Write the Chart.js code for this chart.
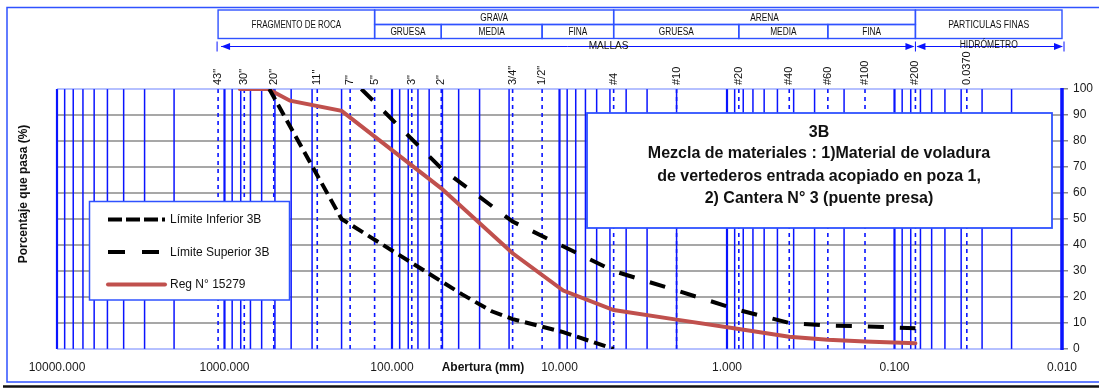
<!DOCTYPE html>
<html>
<head>
<meta charset="utf-8">
<script src="https://cdn.jsdelivr.net/npm/chart.js@4.4.1/dist/chart.umd.min.js"></script>
<style>
  html, body { margin: 0; padding: 0; background: #ffffff; }
  #wrap { width: 1099px; height: 388px; position: relative; }
</style>
</head>
<body>
<div id="wrap"><canvas id="curve"></canvas></div>
<script>
const FONT = '"Liberation Sans", Arial, Helvetica, sans-serif';

// Sieve openings (mm) marked along the top of the plot
const sieveLabels = ['43"', '30"', '20"', '11"', '7"', '5"', '3"', '2"', '3/4"', '1/2"', '#4', '#10', '#20', '#40', '#60', '#100', '#200', '0.0370'];
const sieveSizes  = [1092.2, 762, 508, 279.4, 177.8, 127, 76.2, 50.8, 19.05, 12.7, 4.75, 2.0, 0.85, 0.425, 0.25, 0.15, 0.075, 0.037];

// Axis ticks
const sizeTicks    = [10000, 1000, 100, 10, 1, 0.1, 0.01];
const percentTicks = [0, 10, 20, 30, 40, 50, 60, 70, 80, 90, 100];

// Gradation band 3B and the tested sample (size in mm, % passing)
const lowerSize  = [540, 200, 38.1, 25.4, 19.05, 9.5, 4.75];
const lowerPass  = [100, 50, 21, 14.5, 11.5, 6.5, 0];
const upperSize  = [152.4, 50.8, 19.05, 4.75, 2.0, 0.85, 0.425, 0.25, 0.15, 0.075];
const upperPass  = [100, 69.5, 49, 30, 22.5, 15, 10, 9, 8.7, 8];
const sampleSize = [810, 550, 406.4, 200, 50.8, 19.05, 9.5, 4.75, 2.0, 0.85, 0.425, 0.25, 0.15, 0.075];
const samplePass = [100, 100, 95.5, 91.6, 61.8, 36.8, 22.5, 15, 11.3, 7.7, 4.7, 3.6, 2.9, 2.2];

const seriesNames = ['Límite Inferior 3B', 'Límite Superior 3B', 'Reg N° 15279'];

// Soil classification header (limits in mm)
const fragLimits  = [1092.2, 127];
const gravaLimits = [127, 50.8, 12.7, 4.75];
const arenaLimits = [4.75, 0.85, 0.25, 0.075];
const finosLimits = [0.075, 0.01];
const subNames    = ['GRUESA', 'MEDIA', 'FINA'];

const infoLines = [
  '3B',
  'Mezcla de materiales : 1)Material de voladura',
  'de vertederos entrada acopiado en poza 1,',
  '2) Cantera N° 3 (puente presa)'
];

const BLUE = '#0a14ff';
const FRAME_BLUE = '#2f52ff';
const GRID_GRAY = '#8a8a8a';
const RED = '#c0504d';
const DASH_LOWER = [12, 6];
const DASH_UPPER = [16, 16];

function pts(xs, ys) { return xs.map((v, i) => ({ x: v, y: ys[i] })); }

function seg(ctx, x1, y1, x2, y2) {
  ctx.beginPath(); ctx.moveTo(x1, y1); ctx.lineTo(x2, y2); ctx.stroke();
}

function narrowText(ctx, s, x, y, sx) {
  ctx.save(); ctx.translate(x, y); ctx.scale(sx, 1); ctx.fillText(s, 0, 0); ctx.restore();
}

function arrowHead(ctx, tipX, y, dir) {
  // dir = -1 points left, +1 points right
  ctx.beginPath();
  ctx.moveTo(tipX, y);
  ctx.lineTo(tipX - dir * 9, y - 3.5);
  ctx.lineTo(tipX - dir * 9, y + 3.5);
  ctx.closePath();
  ctx.fill();
}

// Grid: gray percent lines, blue log lines, dashed sieve lines, right axis
const gridPlugin = {
  id: 'gradGrid',
  beforeDatasetsDraw(chart) {
    const { ctx, chartArea: a, scales: { x, y } } = chart;
    ctx.save();
    ctx.lineCap = 'butt';
    ctx.strokeStyle = GRID_GRAY;
    ctx.lineWidth = 1.5;
    percentTicks.forEach(p => {
      if (p === 0 || p === 100) return;
      const py = y.getPixelForValue(p);
      seg(ctx, a.left, py, a.right, py);
    });

    ctx.strokeStyle = BLUE;
    for (let e = -2; e <= 4; e++) {
      for (let m = 1; m <= 9; m++) {
        const v = m * Math.pow(10, e);
        if (v < 0.01 - 1e-12 || v > 10000 + 1e-9) continue;
        const px = x.getPixelForValue(v);
        ctx.lineWidth = m === 1 ? 2.2 : 1.5;
        seg(ctx, px, a.top, px, a.bottom);
      }
    }

    ctx.setLineDash([4, 4]);
    ctx.lineWidth = 1.6;
    sieveSizes.forEach(s => {
      const px = x.getPixelForValue(s);
      seg(ctx, px, a.top, px, a.bottom);
    });
    ctx.setLineDash([]);

    ctx.strokeStyle = 'rgba(60,90,255,0.75)';
    ctx.lineWidth = 1.2;
    seg(ctx, a.left, a.top, a.right, a.top);
    seg(ctx, a.left, a.bottom, a.right, a.bottom);

    ctx.strokeStyle = BLUE;
    ctx.lineWidth = 3.5;
    seg(ctx, a.right, a.top - 1, a.right, a.bottom + 1);
    ctx.restore();
  }
};

// Frame, classification header, sieve names, titles, legend and note box
const overlayPlugin = {
  id: 'gradOverlay',
  afterDraw(chart) {
    const { ctx, chartArea: a, scales: { x, y }, data } = chart;
    const X = v => x.getPixelForValue(v);
    ctx.save();

    // outer frame
    ctx.strokeStyle = FRAME_BLUE;
    ctx.lineWidth = 1.5;
    ctx.strokeRect(7, 7.5, 1100, 374.5);
    ctx.strokeStyle = '#111';
    ctx.lineWidth = 2.5;
    seg(ctx, 3, 386.5, 1099, 386.5);

    // classification table
    const r0 = 10, r1 = 24.5, r2 = 38.5;
    ctx.strokeStyle = FRAME_BLUE;
    ctx.lineWidth = 1.4;
    const box = (v1, v2, t, b) => ctx.strokeRect(X(v1), t, X(v2) - X(v1), b - t);
    box(fragLimits[0], fragLimits[1], r0, r2);
    box(gravaLimits[0], gravaLimits[3], r0, r1);
    box(arenaLimits[0], arenaLimits[3], r0, r1);
    box(finosLimits[0], finosLimits[1], r0, r2);
    for (let i = 0; i < 3; i++) {
      box(gravaLimits[i], gravaLimits[i + 1], r1, r2);
      box(arenaLimits[i], arenaLimits[i + 1], r1, r2);
    }
    ctx.fillStyle = '#111';
    ctx.textAlign = 'center';
    ctx.textBaseline = 'middle';
    ctx.font = '10px ' + FONT;
    const mid = (v1, v2) => (X(v1) + X(v2)) / 2;
    narrowText(ctx, 'FRAGMENTO DE ROCA', mid(fragLimits[0], fragLimits[1]), (r0 + r2) / 2 + 0.5, 0.8);
    narrowText(ctx, 'GRAVA', mid(gravaLimits[0], gravaLimits[3]), (r0 + r1) / 2 + 0.5, 0.83);
    narrowText(ctx, 'ARENA', mid(arenaLimits[0], arenaLimits[3]), (r0 + r1) / 2 + 0.5, 0.83);
    narrowText(ctx, 'PARTICULAS FINAS', mid(finosLimits[0], finosLimits[1]), (r0 + r2) / 2 + 0.5, 0.86);
    for (let i = 0; i < 3; i++) {
      narrowText(ctx, subNames[i], mid(gravaLimits[i], gravaLimits[i + 1]), (r1 + r2) / 2 + 0.5, 0.83);
      narrowText(ctx, subNames[i], mid(arenaLimits[i], arenaLimits[i + 1]), (r1 + r2) / 2 + 0.5, 0.83);
    }

    // sieve / hydrometer arrow row
    const ay = 46.5;
    const xL = X(sieveSizes[0]) - 1, xM = X(0.075), xR = X(0.01) + 1;
    ctx.strokeStyle = BLUE;
    ctx.fillStyle = BLUE;
    ctx.lineWidth = 1;
    seg(ctx, xL, ay - 5, xL, ay + 5);
    seg(ctx, xM, ay - 5, xM, ay + 5);
    seg(ctx, xR + 1, ay - 5, xR + 1, ay + 5);
    seg(ctx, xL + 4, ay, xM - 2, ay);
    seg(ctx, xM + 2, ay, xR - 2, ay);
    arrowHead(ctx, xL + 4, ay, -1);
    arrowHead(ctx, xM - 1, ay, 1);
    arrowHead(ctx, xM + 1, ay, -1);
    arrowHead(ctx, xR, ay, 1);
    ctx.font = '11.5px ' + FONT;
    ctx.textBaseline = 'middle';
    const mallasX = X(4.75) - 5;
    ctx.fillStyle = '#fff';
    ctx.fillRect(mallasX - 21, ay - 7, 30, 6.5);
    ctx.fillStyle = '#111';
    narrowText(ctx, 'MALLAS', mallasX, ay - 1, 0.88);
    const hidroX = mid(0.075, 0.01);
    ctx.font = '10px ' + FONT;
    ctx.fillStyle = '#fff';
    ctx.fillRect(hidroX - 29, ay - 6, 58, 5.5);
    ctx.fillStyle = '#111';
    narrowText(ctx, 'HIDRÓMETRO', hidroX, ay - 1, 0.85);

    // sieve names above the plot
    ctx.font = '11px ' + FONT;
    ctx.fillStyle = '#111';
    ctx.textAlign = 'left';
    ctx.textBaseline = 'middle';
    sieveSizes.forEach((s, i) => {
      ctx.save();
      ctx.translate(X(s), a.top - 4);
      ctx.rotate(-Math.PI / 2);
      ctx.fillText(sieveLabels[i], 0, 0);
      ctx.restore();
    });

    // axis titles
    ctx.font = 'bold 12px ' + FONT;
    ctx.textAlign = 'center';
    ctx.fillText('Abertura (mm)', 483, 368);
    ctx.save();
    ctx.translate(24, 194);
    ctx.rotate(-Math.PI / 2);
    ctx.fillText('Porcentaje que pasa (%)', 0, 0);
    ctx.restore();

    // legend box
    const lx = 89.5, ly = 201.5, lw = 200, lh = 98.5;
    ctx.fillStyle = '#fff';
    ctx.fillRect(lx, ly, lw, lh);
    ctx.strokeStyle = FRAME_BLUE;
    ctx.lineWidth = 1.5;
    ctx.strokeRect(lx, ly, lw, lh);
    const rows = [219.5, 252, 284.5];
    const dashes = [[14, 4], [17, 17], []];
    data.datasets.forEach((ds, i) => {
      ctx.strokeStyle = ds.borderColor;
      ctx.lineWidth = 4;
      ctx.lineCap = i === 2 ? 'round' : 'butt';
      ctx.setLineDash(dashes[i]);
      seg(ctx, 108, rows[i], 165, rows[i]);
      ctx.setLineDash([]);
      ctx.lineCap = 'butt';
      ctx.fillStyle = '#111';
      ctx.font = '12px ' + FONT;
      ctx.textAlign = 'left';
      ctx.textBaseline = 'middle';
      ctx.fillText(ds.label, 170, rows[i] + 0.5);
    });

    // note box
    const bx = 587, by = 113, bw = 465, bh = 115;
    ctx.fillStyle = '#fff';
    ctx.fillRect(bx, by, bw, bh);
    ctx.strokeStyle = FRAME_BLUE;
    ctx.lineWidth = 1.8;
    ctx.strokeRect(bx, by, bw, bh);
    ctx.fillStyle = '#111';
    ctx.font = 'bold 16px ' + FONT;
    ctx.textAlign = 'center';
    ctx.textBaseline = 'middle';
    const lineY = [132.5, 154, 176.5, 199];
    infoLines.forEach((t, i) => ctx.fillText(t, 819, lineY[i]));

    ctx.restore();
  }
};

new Chart(document.getElementById('curve'), {
  type: 'line',
  data: {
    datasets: [
      { label: seriesNames[0], data: pts(lowerSize, lowerPass), borderColor: '#000000', borderWidth: 4, borderDash: DASH_LOWER, pointRadius: 0, fill: false, tension: 0 },
      { label: seriesNames[1], data: pts(upperSize, upperPass), borderColor: '#000000', borderWidth: 4, borderDash: DASH_UPPER, pointRadius: 0, fill: false, tension: 0 },
      { label: seriesNames[2], data: pts(sampleSize, samplePass), borderColor: RED, borderWidth: 4, pointRadius: 0, fill: false, tension: 0, borderCapStyle: 'round' }
    ]
  },
  options: {
    responsive: true,
    maintainAspectRatio: false,
    animation: false,
    events: [],
    layout: { padding: { left: 57, top: 89, right: 0, bottom: 9 } },
    plugins: { legend: { display: false }, tooltip: { enabled: false } },
    scales: {
      x: {
        type: 'logarithmic',
        reverse: true,
        min: 0.01,
        max: 10000,
        afterBuildTicks: s => { s.ticks = sizeTicks.map(v => ({ value: v })); },
        afterFit: s => { s.height = 30; },
        grid: { display: false, drawTicks: false },
        border: { display: false },
        ticks: {
          autoSkip: false, maxRotation: 0, minRotation: 0, padding: 11,
          color: '#1a1a1a', font: { family: FONT, size: 12 },
          callback: v => Number(v).toFixed(3)
        }
      },
      y: {
        position: 'right',
        min: 0,
        max: 100,
        afterBuildTicks: s => { s.ticks = percentTicks.map(v => ({ value: v })); },
        afterFit: s => { s.width = 37; },
        grid: { drawOnChartArea: false, color: GRID_GRAY, lineWidth: 1.5, tickLength: 6 },
        border: { display: false },
        ticks: { padding: 5, color: '#1a1a1a', font: { family: FONT, size: 12 } }
      }
    }
  },
  plugins: [gridPlugin, overlayPlugin]
});
</script>
</body>
</html>
